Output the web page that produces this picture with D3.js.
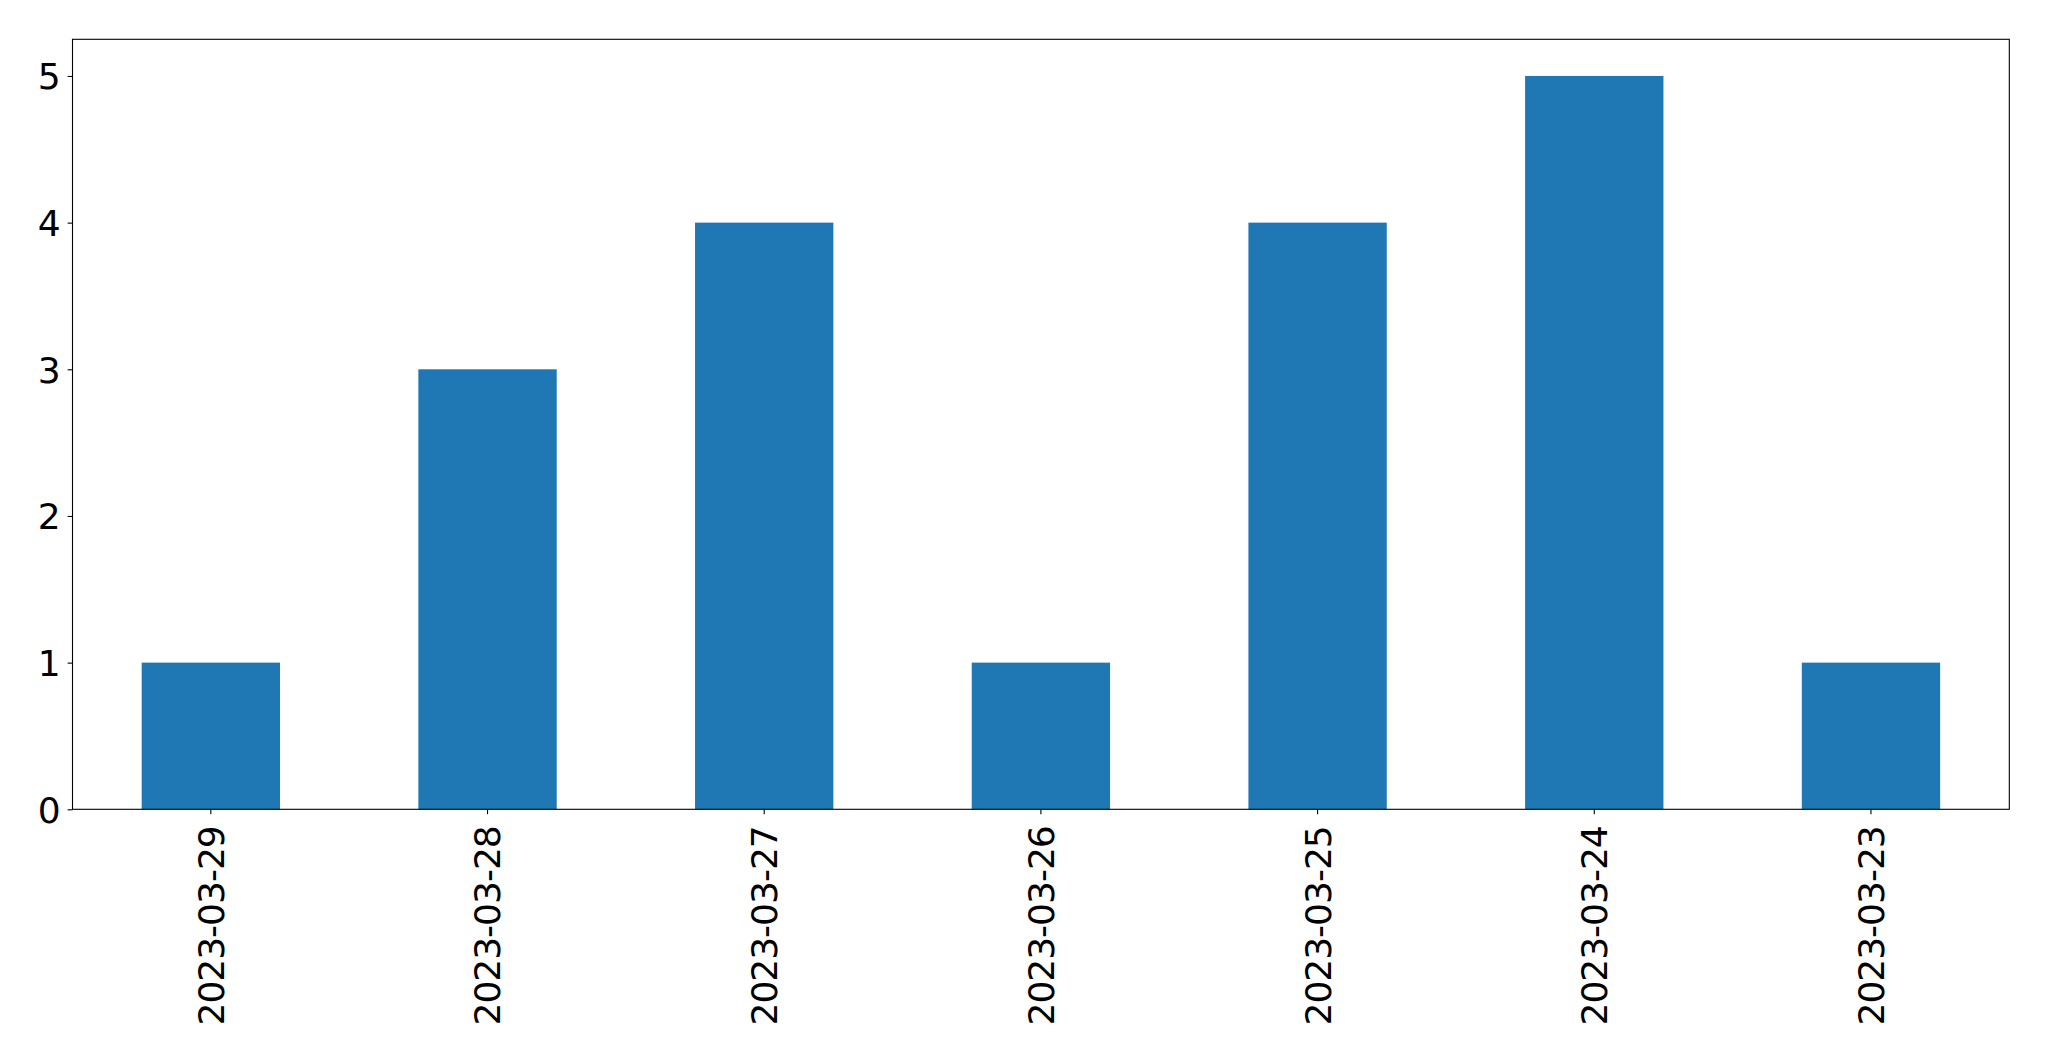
<!DOCTYPE html>
<html>
<head>
<meta charset="utf-8">
<script src="https://cdn.jsdelivr.net/npm/d3@7"></script>
<style>
  html, body { margin: 0; padding: 0; background: #fff; }
  svg { display: block; }
  text { font-family: "DejaVu Sans", sans-serif; fill: #000; }
</style>
</head>
<body>
<svg id="chart" width="2049" height="1061"></svg>
<script>
const categories = ["2023-03-29", "2023-03-28", "2023-03-27", "2023-03-26", "2023-03-25", "2023-03-24", "2023-03-23"];
const values = [1, 3, 4, 1, 4, 5, 1];
const yTicks = [0, 1, 2, 3, 4, 5];

const W = 2049, H = 1061;
const margin = { left: 72.5, right: W - 2009.3, top: 39.3, bottom: H - 809.3 };
const svg = d3.select("#chart");

const x = d3.scaleBand()
  .domain(categories)
  .range([margin.left, W - margin.right])
  .paddingInner(0.5)
  .paddingOuter(0.25);

const y = d3.scaleLinear()
  .domain([0, 5.25])
  .range([H - margin.bottom, margin.top]);

svg.append("g")
  .selectAll("rect")
  .data(values)
  .join("rect")
  .attr("x", (d, i) => x(categories[i]))
  .attr("y", d => y(d))
  .attr("width", x.bandwidth())
  .attr("height", d => y(0) - y(d))
  .attr("fill", "#1f77b4");

// frame
svg.append("rect")
  .attr("x", margin.left)
  .attr("y", margin.top)
  .attr("width", W - margin.right - margin.left)
  .attr("height", H - margin.bottom - margin.top)
  .attr("fill", "none")
  .attr("stroke", "#000")
  .attr("stroke-width", 1.1);

// y axis
const yAxis = svg.append("g")
  .attr("transform", `translate(${margin.left},0)`)
  .call(d3.axisLeft(y).tickValues(yTicks).tickSize(4.9).tickPadding(7).tickFormat(d3.format("d")));
yAxis.select(".domain").remove();
yAxis.selectAll(".tick line").attr("stroke", "#000").attr("stroke-width", 1.1);
yAxis.selectAll(".tick text")
  .style("font-family", "DejaVu Sans, sans-serif")
  .style("font-size", "36px")
  .attr("dy", "0.36em");

// x axis
const xAxis = svg.append("g")
  .attr("transform", `translate(0,${H - margin.bottom})`)
  .call(d3.axisBottom(x).tickSize(4.9).tickPadding(0));
xAxis.select(".domain").remove();
xAxis.selectAll(".tick line").attr("stroke", "#000").attr("stroke-width", 1.1);
xAxis.selectAll(".tick text")
  .style("font-family", "DejaVu Sans, sans-serif")
  .style("font-size", "36px")
  .style("letter-spacing", "-1px")
  .attr("text-anchor", "end")
  .attr("transform", "rotate(-90)")
  .attr("x", -17)
  .attr("y", 0)
  .attr("dy", "0.36em");
</script>
</body>
</html>
